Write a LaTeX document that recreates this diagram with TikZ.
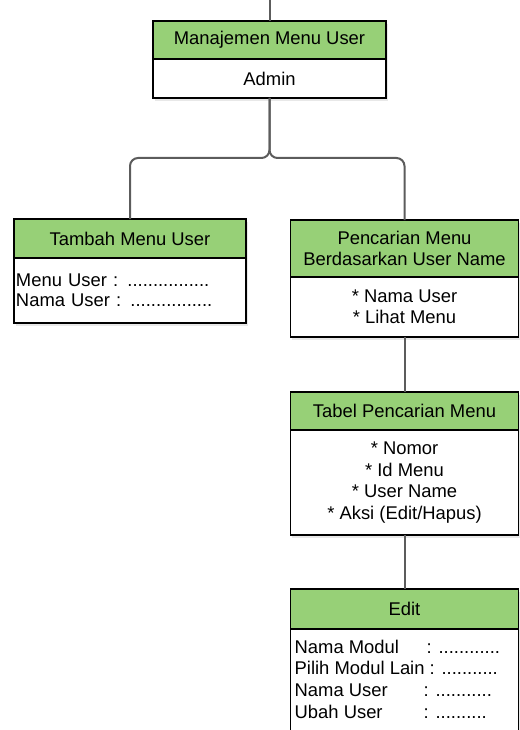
\documentclass[tikz,border=0pt]{standalone}
\usepackage{fontspec}
\setmainfont{Liberation Sans}
\usetikzlibrary{positioning,shadows,calc}
\definecolor{hijau}{HTML}{97D077}
\definecolor{garis}{HTML}{5C5C5C}
\begin{document}
\begin{tikzpicture}[x=1pt,y=1pt,
	judul/.style={draw=black, line width=1.2pt, fill=hijau, inner sep=2pt, outer sep=0pt, align=center,
		font=\fontsize{18.4}{21.5}\selectfont,
		drop shadow={shadow xshift=1.5pt, shadow yshift=-3pt, opacity=0.18}},
	isi/.style={judul, fill=white},
	conn/.style={draw=garis, line width=2pt, rounded corners=8pt}]
	\useasboundingbox (0,0) rectangle (519,-730);

	\node[judul, minimum width=233pt, minimum height=38pt] (mmu) at (269.5,-40) {Manajemen Menu User};
	\node[isi, minimum width=233pt, minimum height=39pt, below=0pt of mmu] (mmuB) {Admin};

	\node[judul, minimum width=232pt, minimum height=39pt] (tmu) at (130,-238.5) {Tambah Menu User};
	\node[isi, minimum width=232pt, minimum height=65pt, below=0pt of tmu, align=left, text width=228pt,
		font=\fontsize{18.4}{19.5}\selectfont] (tmuB)
		{Menu User : ................\\Nama User : ................};

	\node[judul, minimum width=228pt, minimum height=57pt] (pcm) at (404.5,-248.5) {Pencarian Menu\\Berdasarkan User Name};
	\node[isi, minimum width=228pt, minimum height=60pt, below=0pt of pcm] (pcmB) {* Nama User\\* Lihat Menu};

	\node[judul, minimum width=228pt, minimum height=38pt] (tpm) at (404.5,-411) {Tabel Pencarian Menu};
	\node[isi, minimum width=228pt, minimum height=105pt, below=0pt of tpm] (tpmB)
		{* Nomor\\* Id Menu\\* User Name\\* Aksi (Edit/Hapus)};

	\node[judul, minimum width=228pt, minimum height=40pt] (edt) at (404.5,-609) {Edit};
	\node[isi, minimum width=228pt, minimum height=120pt, below=0pt of edt] (edtB) {};
	\node[anchor=north west, inner sep=0pt, align=left, font=\fontsize{18.4}{21.7}\selectfont] (edtT)
		at ($(edtB.north west)+(4,-10.5)$)
		{\makebox[132pt][l]{Nama Modul}: ............\\
		Pilih Modul Lain : ...........\\
		\makebox[129pt][l]{Nama User}: ...........\\
		\makebox[129pt][l]{Ubah User}: ..........};

	\coordinate (masuk) at (269.5,5);
	\coordinate (cabang) at (269.5,-158);
	\draw[conn] (masuk) -- (mmu.north);
	\draw[conn] (mmuB.south) -- (cabang) -| (tmu.north);
	\draw[conn] (mmuB.south) -- (cabang) -| (pcm.north);
	\draw[conn] (pcmB.south) -- (tpm.north);
	\draw[conn] (tpmB.south) -- (edt.north);

\end{tikzpicture}
\end{document}
